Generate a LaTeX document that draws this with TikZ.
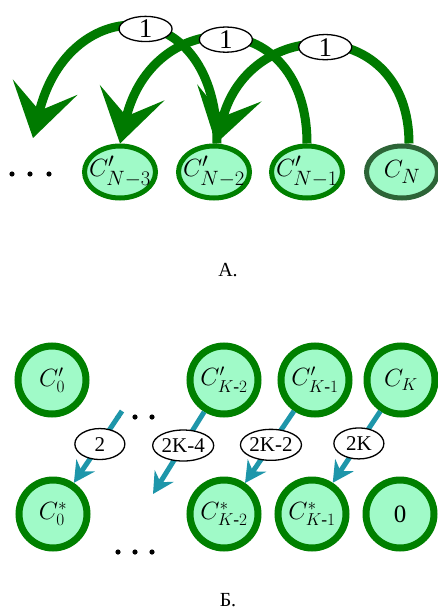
\documentclass[tikz,border=0pt]{standalone}
\usepackage{amsmath}
\usepackage{fontspec}
\setmainfont{Liberation Serif}
\usetikzlibrary{arrows.meta,shapes.geometric}
\definecolor{nodefill}{RGB}{160,250,200}
\definecolor{nodeline}{RGB}{0,128,0}
\definecolor{darkline}{RGB}{45,100,55}
\definecolor{arcgreen}{RGB}{0,122,0}
\definecolor{teal2}{RGB}{30,150,170}
\newcommand{\zbox}[1]{\makebox[0pt]{#1}}
\tikzset{
  nodeA/.style={ellipse, draw=nodeline, fill=nodefill, line width=5pt,
    minimum width=71pt, minimum height=52pt, inner sep=0pt,
    font=\fontsize{28}{32}\selectfont},
  nodeB/.style={circle, draw=nodeline, fill=nodefill, line width=7pt,
    minimum size=68pt, inner sep=0pt, font=\fontsize{25}{28}\selectfont},
  arcA/.style={draw=arcgreen, line width=9pt,
    -{Stealth[length=52pt,width=66pt,inset=24pt]}},
  arrB/.style={draw=teal2, line width=5pt,
    -{Stealth[length=21pt,width=22pt,inset=7pt]}},
  lblA/.style={ellipse, draw=black, fill=white, line width=1.3pt,
    minimum width=53pt, minimum height=24pt, inner sep=0pt,
    font=\fontsize{27}{28}\selectfont},
  lblB/.style={ellipse, draw=black, fill=white, line width=1.3pt,
    minimum width=50pt, minimum height=31pt, inner sep=0pt,
    font=\fontsize{21}{22}\selectfont},
  caption/.style={font=\fontsize{20}{24}\selectfont},
}
\begin{document}
\begin{tikzpicture}[x=1pt,y=-1pt]
\useasboundingbox (0,0) rectangle (437,610);
% ---------- Part A ----------
\node[nodeA] (a3) at (120,172) {\zbox{$C'_{N-3}$}};
\node[nodeA] (a2) at (214,172) {\zbox{$C'_{N-2}$}};
\node[nodeA] (a1) at (307,172) {\zbox{$C'_{N-1}$}};
\node[nodeA, draw=darkline] (aN) at (402,172) {\zbox{$C_{N}$}};
\coordinate (offA) at (33,138);
\foreach \x in {12,30,49} \fill (\x,174) circle (2.6pt);
\draw[arcA] ([xshift=7pt]aN.north) .. controls (409,15) and (250,15) .. ([xshift=2pt]a2.north)
  coordinate[pos=0.5] (m1);
\draw[arcA] (a1.north) .. controls (307,5) and (153,5) .. (a3.north)
  coordinate[pos=0.5] (m2);
\draw[arcA] ([xshift=3pt]a2.north) .. controls (217,-9) and (68,-9) .. (offA)
  coordinate[pos=0.47] (m3);
\node[lblA] (l1) at (m1) {1};
\node[lblA] (l2) at (m2) {1};
\node[lblA] (l3) at (m3) {1};
\node[caption] (capA) at (228,270) {А.};
% ---------- Part B ----------
\node[nodeB] (b0) at (52,380) {\zbox{$C'_{0}$}};
\node[nodeB] (bk2) at (224,380) {\zbox{$C'_{K\text{-}2}$}};
\node[nodeB] (bk1) at (315,380) {\zbox{$C'_{K\text{-}1}$}};
\node[nodeB] (bK) at (401,380) {\zbox{$C_{K}$}};
\node[nodeB] (s0) at (53,514) {\zbox{$C^{*}_{0}$}};
\node[nodeB] (sk2) at (224,514) {\zbox{$C^{*}_{K\text{-}2}$}};
\node[nodeB] (sk1) at (312,514) {\zbox{$C^{*}_{K\text{-}1}$}};
\node[nodeB] (z) at (400,514) {0};
\foreach \x in {118,135,152} {\fill (\x,417) circle (2.6pt); \fill (\x,552) circle (2.6pt);}
\coordinate (offB1) at (122,411);
\coordinate (offB2) at (153,494);
\draw[arrB] (offB1) -- (s0) coordinate[pos=0.46] (n1);
\draw[arrB] (bk2) -- (offB2) coordinate[pos=0.41] (n2);
\draw[arrB] (bk1) -- (sk2) coordinate[pos=0.47] (n3);
\draw[arrB] (bK) -- (sk1) coordinate[pos=0.45] (n4);
\node[lblB] (q1) at (n1) {2};
\node[lblB] (q2) at (n2) {2K-4};
\node[lblB] (q3) at (n3) {2K-2};
\node[lblB] (q4) at (n4) {2K};
\node[caption] (capB) at (228,600) {Б.};
\end{tikzpicture}
\end{document}
